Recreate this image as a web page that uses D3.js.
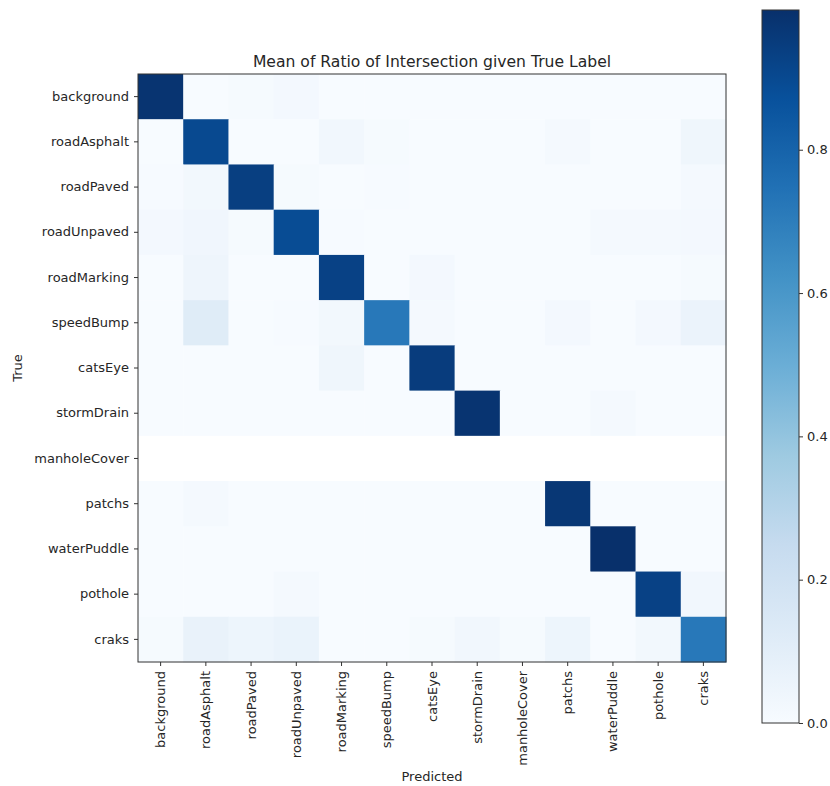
<!DOCTYPE html>
<html>
<head>
<meta charset="utf-8">
<script src="https://cdn.jsdelivr.net/npm/d3@7"></script>
<style>
  body { margin: 0; background: #fff; }
  svg text { font-family: "DejaVu Sans", sans-serif; fill: #262626; }
</style>
</head>
<body>
<svg id="chart" width="830" height="786"></svg>
<script>
const labels = ["background", "roadAsphalt", "roadPaved", "roadUnpaved", "roadMarking", "speedBump",
  "catsEye", "stormDrain", "manholeCover", "patchs", "waterPuddle", "pothole", "craks"];

// rows = true label, cols = predicted; null = no samples (drawn white)
const background   = [0.98, 0.00, 0.01, 0.02, 0.00, 0.00, 0.00, 0.00, 0.00, 0.00, 0.00, 0.00, 0.00];
const roadAsphalt  = [0.00, 0.90, 0.00, 0.00, 0.03, 0.01, 0.00, 0.00, 0.00, 0.015, 0.00, 0.00, 0.04];
const roadPaved    = [0.005, 0.025, 0.94, 0.01, 0.00, 0.005, 0.00, 0.00, 0.00, 0.00, 0.00, 0.00, 0.015];
const roadUnpaved  = [0.02, 0.035, 0.01, 0.89, 0.005, 0.00, 0.00, 0.00, 0.00, 0.00, 0.015, 0.015, 0.02];
const roadMarking  = [0.00, 0.045, 0.00, 0.00, 0.93, 0.00, 0.02, 0.00, 0.00, 0.00, 0.00, 0.00, 0.01];
const speedBump    = [0.00, 0.12, 0.00, 0.005, 0.025, 0.72, 0.015, 0.00, 0.00, 0.02, 0.00, 0.02, 0.06];
const catsEye      = [0.00, 0.00, 0.00, 0.00, 0.04, 0.00, 0.95, 0.00, 0.00, 0.00, 0.00, 0.00, 0.00];
const stormDrain   = [0.00, 0.00, 0.00, 0.00, 0.00, 0.00, 0.00, 0.98, 0.00, 0.00, 0.015, 0.00, 0.00];
const manholeCover = [null, null, null, null, null, null, null, null, null, null, null, null, null];
const patchs       = [0.00, 0.015, 0.00, 0.00, 0.00, 0.00, 0.00, 0.00, 0.00, 0.97, 0.00, 0.00, 0.00];
const waterPuddle  = [0.00, 0.00, 0.00, 0.00, 0.00, 0.00, 0.00, 0.00, 0.00, 0.00, 0.995, 0.00, 0.00];
const pothole      = [0.00, 0.00, 0.00, 0.015, 0.00, 0.00, 0.00, 0.00, 0.00, 0.00, 0.00, 0.93, 0.03];
const craks        = [0.01, 0.07, 0.05, 0.065, 0.00, 0.00, 0.01, 0.03, 0.01, 0.05, 0.00, 0.025, 0.72];

const rows = [background, roadAsphalt, roadPaved, roadUnpaved, roadMarking, speedBump,
  catsEye, stormDrain, manholeCover, patchs, waterPuddle, pothole, craks];

const cbTicks = [0.0, 0.2, 0.4, 0.6, 0.8];
const blues = ["#f7fbff", "#deebf7", "#c6dbef", "#9ecae1", "#6baed6", "#4292c6", "#2171b5", "#08519c", "#08306b"];

const svg = d3.select("#chart");
const plotLeft = 138, plotTop = 74, plotSize = 588;
const fs = 13;

const vmax = d3.max(rows, r => d3.max(r, v => v == null ? 0 : v));
const color = d3.scaleLinear()
  .domain(blues.map((_, i) => i / (blues.length - 1) * vmax))
  .range(blues)
  .clamp(true);

const x = d3.scaleBand().domain(labels).range([plotLeft, plotLeft + plotSize]);
const y = d3.scaleBand().domain(labels).range([plotTop, plotTop + plotSize]);

const cells = [];
rows.forEach((r, i) => r.forEach((v, j) => cells.push({ t: labels[i], p: labels[j], v })));

svg.append("g")
  .selectAll("rect")
  .data(cells)
  .join("rect")
  .attr("x", d => x(d.p))
  .attr("y", d => y(d.t))
  .attr("width", x.bandwidth() + 0.5)
  .attr("height", y.bandwidth() + 0.5)
  .attr("fill", d => d.v == null ? "#ffffff" : color(d.v));

// frame
svg.append("rect")
  .attr("x", plotLeft).attr("y", plotTop)
  .attr("width", plotSize).attr("height", plotSize)
  .attr("fill", "none").attr("stroke", "#333").attr("stroke-width", 1);

// axes
const yAxis = svg.append("g")
  .attr("transform", `translate(${plotLeft},0)`)
  .call(d3.axisLeft(y).tickSize(4).tickPadding(5));
const xAxis = svg.append("g")
  .attr("transform", `translate(0,${plotTop + plotSize})`)
  .call(d3.axisBottom(x).tickSize(4).tickPadding(5));

[yAxis, xAxis].forEach(a => {
  a.select(".domain").remove();
  a.selectAll("line").attr("stroke", "#333");
  a.selectAll("text").attr("font-size", fs).attr("font-family", "DejaVu Sans").attr("fill", "#262626");
});

xAxis.selectAll("text")
  .attr("transform", "rotate(-90)")
  .attr("text-anchor", "end")
  .attr("x", -9)
  .attr("y", 0)
  .attr("dy", "0.35em");

// titles
svg.append("text")
  .attr("x", plotLeft + plotSize / 2).attr("y", 67)
  .attr("text-anchor", "middle").attr("font-size", 15.6)
  .text("Mean of Ratio of Intersection given True Label");

svg.append("text")
  .attr("x", plotLeft + plotSize / 2).attr("y", 781)
  .attr("text-anchor", "middle").attr("font-size", fs)
  .text("Predicted");

svg.append("text")
  .attr("transform", `translate(22,${plotTop + plotSize / 2}) rotate(-90)`)
  .attr("text-anchor", "middle").attr("font-size", fs)
  .text("True");

// colorbar
const cbX = 762, cbW = 37, cbTop = 10, cbBottom = 723;
const defs = svg.append("defs");
const grad = defs.append("linearGradient")
  .attr("id", "cb").attr("x1", 0).attr("y1", 1).attr("x2", 0).attr("y2", 0);
grad.selectAll("stop")
  .data(blues)
  .join("stop")
  .attr("offset", (_, i) => i / (blues.length - 1))
  .attr("stop-color", d => d);

svg.append("rect")
  .attr("x", cbX).attr("y", cbTop)
  .attr("width", cbW).attr("height", cbBottom - cbTop)
  .attr("fill", "url(#cb)")
  .attr("stroke", "#333").attr("stroke-width", 1);

const cbScale = d3.scaleLinear().domain([0, vmax]).range([cbBottom, cbTop]);
const cbAxis = svg.append("g")
  .attr("transform", `translate(${cbX + cbW},0)`)
  .call(d3.axisRight(cbScale).tickValues(cbTicks).tickFormat(d3.format(".1f")).tickSize(4).tickPadding(4));
cbAxis.select(".domain").remove();
cbAxis.selectAll("line").attr("stroke", "#333");
cbAxis.selectAll("text").attr("font-size", fs).attr("font-family", "DejaVu Sans").attr("fill", "#262626");
</script>
</body>
</html>
